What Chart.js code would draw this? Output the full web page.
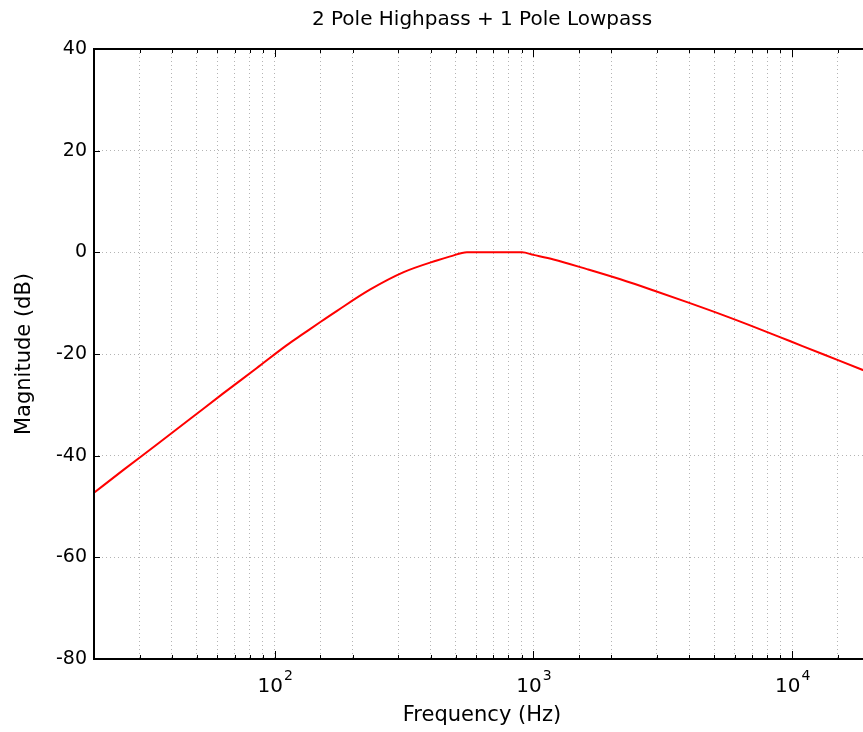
<!DOCTYPE html>
<html>
<head>
<meta charset="utf-8">
<script src="https://cdn.jsdelivr.net/npm/chart.js@4/dist/chart.umd.min.js"></script>
<style>
  html, body { margin: 0; padding: 0; background: #fff; overflow: hidden; }
  canvas { display: block; }
</style>
</head>
<body>
<canvas id="grafico" width="880" height="732"></canvas>
<script>
const titulo = '2 Pole Highpass + 1 Pole Lowpass';
const tituloX = 'Frequency (Hz)';
const tituloY = 'Magnitude (dB)';

// frequencias (Hz) e magnitude (dB)
const freqs = [20, 26, 35, 47, 63, 85, 111, 129, 150, 174, 234, 315, 423, 477, 553, 903, 1000, 1196, 1610, 2168, 2916, 3926, 5440, 7320, 9850, 13255, 18660, 20000];
const magnitudeDb = [-47.3, -42.8, -37.8, -32.8, -27.8, -22.8, -18.3, -16.0, -13.7, -11.5, -7.3, -3.9, -1.6, -0.8, 0, 0, -0.5, -1.4, -3.3, -5.3, -7.5, -9.8, -12.4, -14.9, -17.5, -20.1, -23.1, -23.7];

const decadas = [100, 1000, 10000];
const expoentes = ['2', '3', '4'];

const fonte = 'DejaVu Sans';

const caixaEMarcas = {
  id: 'caixaEMarcas',
  afterDraw(chart) {
    const ctx = chart.ctx;
    const area = chart.chartArea;
    const x = chart.scales.x;
    const y = chart.scales.y;

    ctx.save();
    ctx.strokeStyle = '#000';

    // marcas internas no eixo x (baixo e cima)
    ctx.lineWidth = 1;
    x.ticks.forEach(t => {
      const px = Math.round(x.getPixelForValue(t.value)) + 0.5;
      const len = decadas.includes(t.value) ? 8 : 4;
      ctx.beginPath();
      ctx.moveTo(px, area.bottom);
      ctx.lineTo(px, area.bottom - len);
      ctx.moveTo(px, area.top);
      ctx.lineTo(px, area.top + len);
      ctx.stroke();
    });

    // marcas internas no eixo y
    y.ticks.forEach(t => {
      const py = Math.round(y.getPixelForValue(t.value)) + 0.5;
      ctx.beginPath();
      ctx.moveTo(area.left, py);
      ctx.lineTo(area.left + 6, py);
      ctx.moveTo(area.right, py);
      ctx.lineTo(area.right - 6, py);
      ctx.stroke();
    });

    // caixa
    ctx.lineWidth = 2;
    ctx.strokeRect(area.left, area.top, area.right - area.left, area.bottom - area.top);

    // rotulos 10^n
    ctx.fillStyle = '#000';
    ctx.textBaseline = 'alphabetic';
    decadas.forEach((v, i) => {
      const px = x.getPixelForValue(v);
      ctx.font = '20px "' + fonte + '"';
      const w10 = ctx.measureText('10').width;
      ctx.font = '14px "' + fonte + '"';
      const wExp = ctx.measureText(expoentes[i]).width;
      const inicio = px - (w10 + wExp) / 2;
      ctx.font = '20px "' + fonte + '"';
      ctx.textAlign = 'left';
      ctx.fillText('10', inicio, 692);
      ctx.font = '14px "' + fonte + '"';
      ctx.fillText(expoentes[i], inicio + w10 + 1, 680);
    });
    ctx.restore();
  }
};

const ctx = document.getElementById('grafico').getContext('2d');
new Chart(ctx, {
  type: 'line',
  data: {
    datasets: [{
      label: tituloY,
      data: freqs.map((f, i) => ({ x: f, y: magnitudeDb[i] })),
      borderColor: '#ff0000',
      borderWidth: 2,
      pointRadius: 0,
      fill: false,
      cubicInterpolationMode: 'monotone'
    }]
  },
  options: {
    responsive: false,
    animation: false,
    layout: { padding: { top: 0, right: 10, bottom: 0, left: 0 } },
    plugins: {
      legend: { display: false },
      title: { display: false },
      tooltip: { enabled: false }
    },
    scales: {
      x: {
        type: 'logarithmic',
        position: 'bottom',
        min: 20,
        max: 20000,
        afterFit: s => { s.height = 73; },
        ticks: { display: false, autoSkip: false },
        grid: { color: '#b4b4b4', lineWidth: 1, drawTicks: false },
        border: { display: false, dash: [1, 3] },
        title: {
          display: true,
          text: tituloX,
          color: '#000',
          font: { family: fonte, size: 21 },
          padding: { top: 0, bottom: 4 }
        }
      },
      topo: {
        type: 'linear',
        position: 'top',
        min: 0,
        max: 1,
        afterFit: s => { s.height = 49; },
        ticks: { display: false },
        grid: { display: false, drawTicks: false },
        border: { display: false },
        title: {
          display: true,
          text: titulo,
          color: '#000',
          font: { family: fonte, size: 20 },
          padding: { top: 8, bottom: 0 }
        }
      },
      y: {
        type: 'linear',
        min: -80,
        max: 40,
        afterFit: s => { s.width = 94; },
        ticks: {
          stepSize: 20,
          color: '#000',
          padding: 7,
          font: { family: fonte, size: 19 }
        },
        grid: { color: '#b4b4b4', lineWidth: 1, drawTicks: false },
        border: { display: false, dash: [1, 3] },
        title: {
          display: true,
          text: tituloY,
          color: '#000',
          font: { family: fonte, size: 21 },
          padding: { top: 12, bottom: 0 }
        }
      }
    }
  },
  plugins: [caixaEMarcas]
});
</script>
</body>
</html>
